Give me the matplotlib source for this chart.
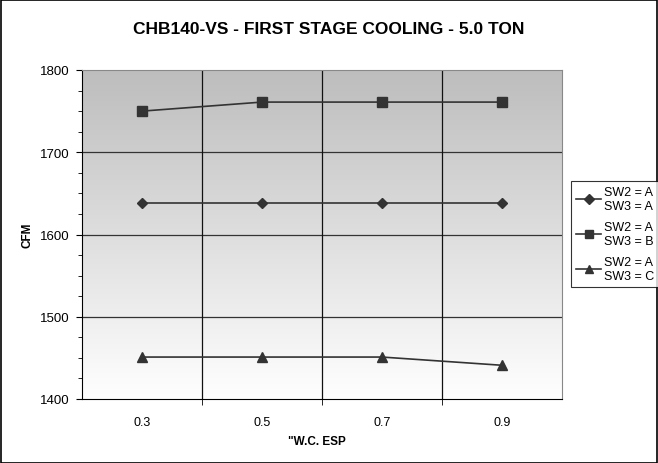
import numpy as np
import matplotlib.pyplot as plt
from matplotlib.colors import LinearSegmentedColormap
from matplotlib.patches import Rectangle
from matplotlib.ticker import MultipleLocator, FixedLocator

plt.rcParams['font.family'] = ['Liberation Sans', 'DejaVu Sans']

# data
esp = ['0.3', '0.5', '0.7', '0.9']
sw3_a = [1638, 1638, 1638, 1638]
sw3_b = [1750, 1761, 1761, 1761]
sw3_c = [1451, 1451, 1451, 1441]
labels = ['SW2 = A\nSW3 = A', 'SW2 = A\nSW3 = B', 'SW2 = A\nSW3 = C']

fig = plt.figure(figsize=(6.58, 4.64), dpi=100)
ax = fig.add_axes([82/658, 64/464, 480/658, 329/464])

# gradient background, gray at top fading to white at bottom
cmap = LinearSegmentedColormap.from_list('bg', ['#ffffff', '#bdbdbd'])
grad = np.linspace(0, 1, 256).reshape(-1, 1)
ax.imshow(grad, cmap=cmap, aspect='auto', origin='lower',
          extent=[-0.5, 3.5, 1400, 1800], zorder=0)

x = np.arange(len(esp))
line_kw = dict(color='#333333', lw=1.2, zorder=3)
ax.plot(x, sw3_a, marker='D', ms=5.5, label=labels[0], **line_kw)
ax.plot(x, sw3_b, marker='s', ms=7, label=labels[1], **line_kw)
ax.plot(x, sw3_c, marker='^', ms=7.5, label=labels[2], **line_kw)

ax.set_xlim(-0.5, 3.5)
ax.set_ylim(1400, 1800)
ax.yaxis.set_major_locator(MultipleLocator(100))
ax.yaxis.set_minor_locator(MultipleLocator(25))
ax.set_xticks(x)
ax.set_xticklabels(esp)
ax.xaxis.set_minor_locator(FixedLocator([0.5, 1.5, 2.5]))
ax.tick_params(axis='x', which='major', length=0, pad=12, labelsize=9)
ax.tick_params(axis='x', which='minor', length=4, direction='out')
ax.tick_params(axis='y', which='major', length=4, pad=5, labelsize=9.5)
ax.tick_params(axis='y', which='minor', length=3)

for yv in [1500, 1600, 1700]:
    ax.axhline(yv, color='#333333', lw=0.9, zorder=1)
for xv in [0.5, 1.5, 2.5]:
    ax.axvline(xv, color='#111111', lw=0.9, zorder=1)

for side in ['top', 'right']:
    ax.spines[side].set_color('#888888')
    ax.spines[side].set_linewidth(0.8)

ax.set_ylabel('CFM', fontsize=8.5, fontweight='bold')
ax.yaxis.set_label_coords(-0.102, 0.5)
ax.set_xlabel('"W.C. ESP', fontsize=8.5, fontweight='bold')
ax.xaxis.set_label_coords(0.49, -0.11)
fig.text(0.5, 1 - 29/464, 'CHB140-VS - FIRST STAGE COOLING - 5.0 TON',
         ha='center', va='center', fontsize=12.5, fontweight='bold')

leg = fig.legend(loc='upper left', bbox_to_anchor=(571/658, 1 - 182/464),
                 fontsize=9, frameon=True, fancybox=False, handlelength=2.0,
                 handletextpad=0.2, borderpad=0.4, labelspacing=0.75,
                 borderaxespad=0, markerscale=0.85)
leg.get_frame().set_edgecolor('black')
leg.get_frame().set_linewidth(0.8)

# outer chart border
fig.patches.append(Rectangle((0.001, 0.001), 0.997, 0.997, transform=fig.transFigure,
                             fill=False, edgecolor='black', lw=1.2))

fig.savefig('out.png', dpi=100)
